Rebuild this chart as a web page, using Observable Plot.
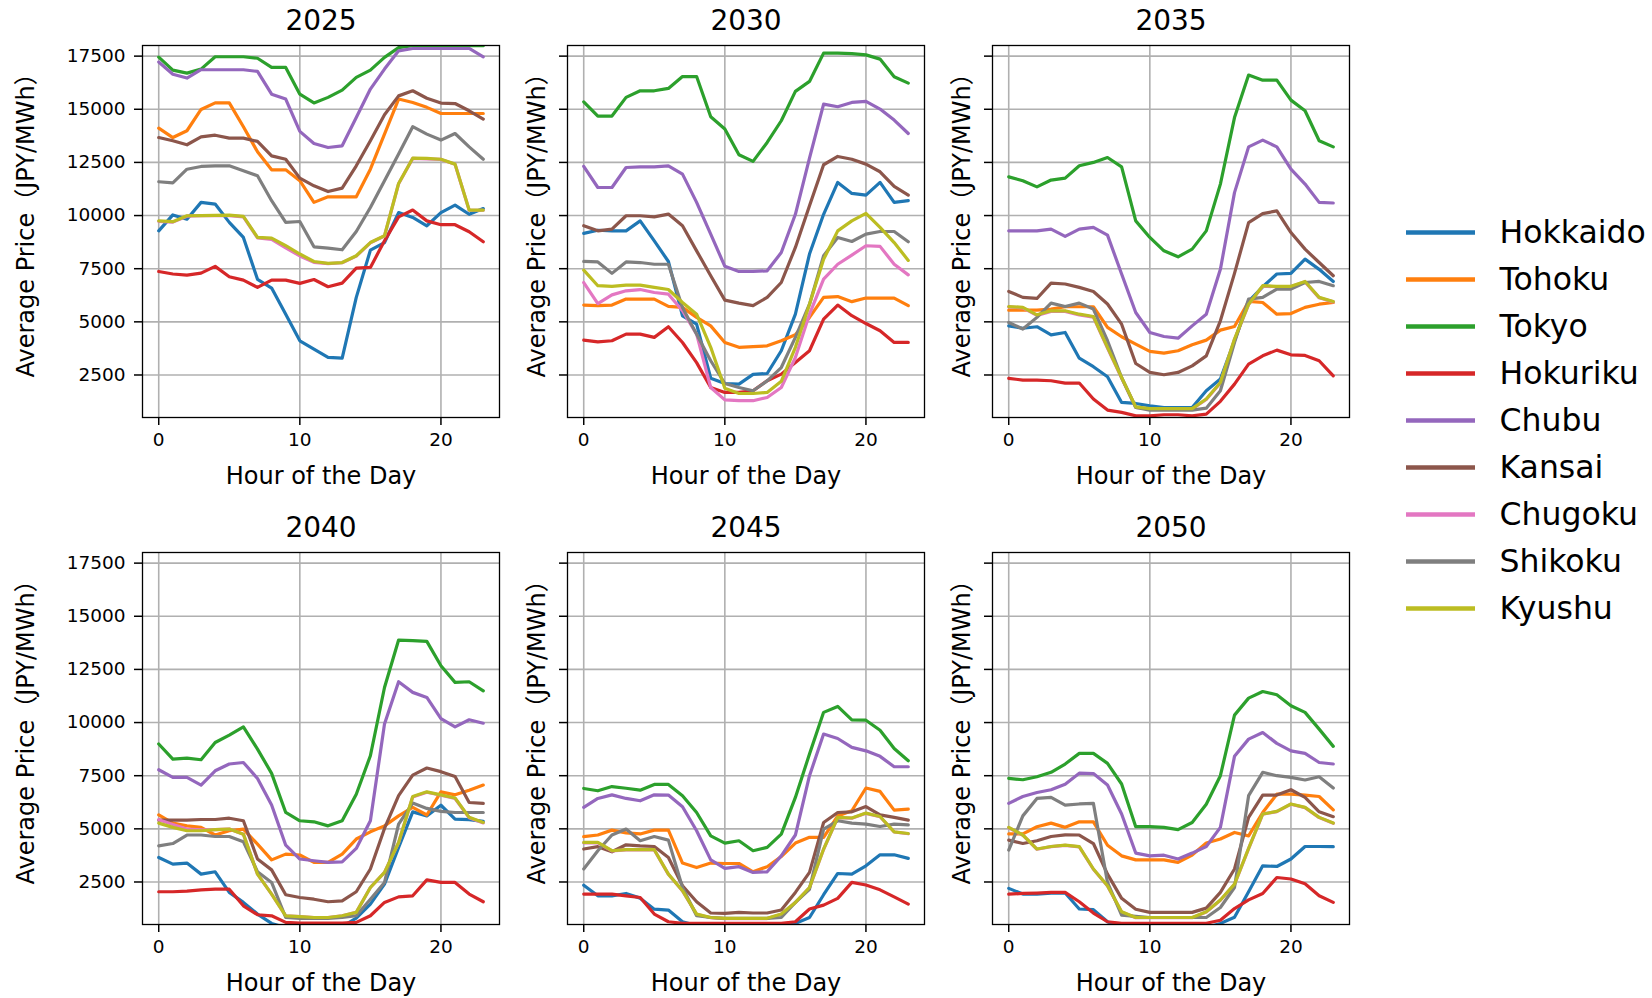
<!DOCTYPE html>
<html>
<head>
<meta charset="utf-8">
<script src="https://cdn.jsdelivr.net/npm/d3@7"></script>
<script src="https://cdn.jsdelivr.net/npm/@observablehq/plot@0.6"></script>
<style>
  html, body { margin: 0; padding: 0; background: white; overflow: hidden; }
  #chart { position: relative; width: 1652px; height: 998px; background: white; }
  .cell { position: absolute; }
  .cell svg { display: block; max-width: none; }
</style>
</head>
<body>
<div id="chart"></div>
<script>
const hours = [0,1,2,3,4,5,6,7,8,9,10,11,12,13,14,15,16,17,18,19,20,21,22,23];
const regions = ["Hokkaido","Tohoku","Tokyo","Hokuriku","Chubu","Kansai","Chugoku","Shikoku","Kyushu"];
const colors = ["#1f77b4","#ff7f0e","#2ca02c","#d62728","#9467bd","#8c564b","#e377c2","#7f7f7f","#bcbd22"];
const years = ["2025","2030","2035","2040","2045","2050"];
const yTicks = [2500,5000,7500,10000,12500,15000,17500];
const xTicks = [0,10,20];
const yLabel = "Average Price（JPY/MWh）";
const xLabel = "Hour of the Day";

const price2025 = {
  Hokkaido: [9280,10030,9830,10620,10540,9680,8970,7000,6590,5360,4110,3720,3330,3290,6150,8370,8730,10140,9910,9520,10140,10490,10060,10330],
  Tohoku:   [14110,13670,13990,14990,15300,15300,14180,13000,12150,12150,11640,10620,10880,10880,10880,12180,13830,15480,15320,15090,14800,14800,14800,14800],
  Tokyo:    [17450,16840,16700,16890,17470,17470,17470,17400,16970,16970,15710,15300,15560,15900,16500,16840,17440,17900,17990,17990,17990,17990,17990,17990],
  Hokuriku: [7370,7250,7200,7290,7610,7120,6960,6620,6960,6960,6810,6990,6650,6820,7530,7560,8810,9940,10260,9750,9570,9570,9240,8770],
  Chubu:    [17220,16650,16470,16860,16860,16860,16860,16780,15710,15480,13960,13390,13200,13280,14610,15950,16890,17750,17860,17860,17860,17860,17860,17470],
  Kansai:   [13670,13520,13330,13700,13780,13640,13640,13490,12810,12650,11760,11400,11130,11290,12340,13520,14740,15630,15870,15520,15290,15270,14930,14540],
  Chugoku:  [9720,9690,9970,9990,10000,10000,9940,8950,8880,8480,8100,7800,7740,7780,8090,8720,9040,11500,12690,12660,12640,12410,10250,10250],
  Shikoku:  [11590,11540,12180,12310,12340,12340,12110,11870,10700,9680,9720,8530,8470,8390,9250,10380,11640,12890,14180,13830,13550,13860,13230,12650],
  Kyushu:   [9750,9710,9990,10000,10010,10020,9960,8970,8940,8580,8190,7840,7750,7790,8110,8730,9050,11510,12700,12690,12650,12420,10260,10260]
};
const price2030 = {
  Hokkaido: [9160,9310,9280,9280,9750,8810,7840,5280,4890,2350,2100,2070,2530,2570,3640,5360,8190,10060,11560,11040,10960,11560,10620,10700],
  Tohoku:   [5790,5760,5790,6070,6070,6070,5730,5680,5210,4810,4030,3800,3830,3870,4110,4390,5210,6150,6190,5950,6120,6120,6120,5760],
  Tokyo:    [15350,14680,14680,15560,15870,15870,15980,16540,16540,14650,14070,12860,12550,13440,14460,15840,16310,17640,17640,17620,17560,17360,16530,16230],
  Hokuriku: [4140,4060,4110,4420,4420,4270,4770,4030,3080,1910,1680,1680,1760,2230,2540,3090,3640,5130,5790,5290,4920,4580,4030,4030],
  Chubu:    [12310,11320,11320,12260,12290,12290,12340,11950,10620,9130,7610,7370,7370,7400,8260,10060,12700,15240,15120,15320,15370,15010,14490,13860],
  Kansai:   [9520,9280,9360,9990,9990,9940,10070,9520,8340,7170,6020,5880,5760,6150,6850,8500,10460,12390,12780,12650,12420,12060,11370,10960],
  Chugoku:  [6850,5860,6270,6460,6520,6380,6300,5520,4420,1910,1330,1290,1290,1440,1910,3320,5360,7010,7710,8140,8580,8550,7710,7210],
  Shikoku:  [7840,7820,7280,7820,7790,7710,7710,5680,4420,3170,2100,1910,1760,2220,2850,4270,5830,8110,8970,8780,9130,9250,9250,8770],
  Kyushu:   [7430,6700,6670,6730,6730,6620,6520,5910,5360,3800,1880,1630,1630,1680,2200,3800,5830,7940,9280,9750,10100,9440,8730,7890]
};
const price2035 = {
  Hokkaido: [4810,4700,4770,4390,4500,3290,2890,2420,1210,1160,1050,970,970,970,1760,2310,4110,5960,6650,7250,7280,7950,7470,6900],
  Tohoku:   [5550,5550,5550,5600,5710,5710,5710,4740,4300,3950,3610,3530,3640,3920,4140,4610,4780,5960,5910,5360,5390,5680,5830,5910],
  Tokyo:    [11820,11640,11350,11670,11760,12340,12500,12730,12290,9750,8970,8340,8060,8420,9280,11480,14610,16610,16370,16370,15430,14930,13520,13230],
  Hokuriku: [2340,2260,2260,2230,2120,2120,1370,850,740,580,580,630,630,580,660,1260,2070,3010,3400,3670,3450,3420,3170,2460],
  Chubu:    [9280,9280,9280,9360,9020,9360,9440,9080,7250,5440,4500,4310,4230,4810,5360,7470,11080,13230,13550,13230,12180,11480,10620,10590],
  Kansai:   [6430,6150,6100,6820,6780,6620,6430,5840,4890,3040,2620,2510,2620,2930,3400,5050,7280,9670,10090,10220,9200,8420,7790,7170],
  Chugoku:  [5700,5660,5300,5490,5490,5330,5220,3770,2350,980,900,900,900,900,1350,2130,4170,5810,6680,6650,6650,6880,6130,5940],
  Shikoku:  [4970,4660,5210,5880,5720,5880,5600,4110,2380,970,850,850,850,850,940,1760,4030,6070,6150,6540,6540,6850,6900,6700],
  Kyushu:   [5720,5680,5330,5520,5520,5360,5250,3800,2380,1000,920,920,920,920,1370,2150,4190,5830,6700,6670,6670,6900,6150,5960]
};
const price2040 = {
  Hokkaido: [3650,3340,3390,2870,2980,2010,1540,990,550,350,350,350,350,400,800,1460,2400,4130,5800,5610,6110,5460,5430,5350],
  Tohoku:   [5660,5270,5140,5070,4710,4910,4990,4280,3540,3810,3770,3420,3420,3810,4520,4860,5140,5610,6010,5650,6740,6600,6820,7060],
  Tokyo:    [8990,8280,8330,8250,9060,9410,9800,8750,7610,5770,5380,5330,5140,5380,6630,8440,11650,13880,13850,13820,12670,11890,11920,11490],
  Hokuriku: [2040,2040,2070,2130,2160,2160,1380,960,910,600,570,570,570,570,600,910,1540,1800,1850,2600,2480,2480,1930,1570],
  Chubu:    [7780,7420,7420,7060,7730,8050,8120,7370,6120,4230,3580,3500,3420,3450,4080,5380,9930,11920,11420,11180,10190,9800,10130,9970],
  Kansai:   [5410,5410,5410,5440,5440,5500,5380,3580,3070,1900,1770,1690,1570,1610,2040,3110,5020,6560,7530,7860,7690,7460,6240,6200],
  Chugoku:  [5430,5200,4990,4950,4960,4990,4750,2870,1930,910,870,830,830,910,1070,2240,2950,4360,6500,6720,6580,6430,5520,5280],
  Shikoku:  [4200,4310,4710,4710,4640,4640,4390,2980,2480,830,790,790,790,830,910,1690,2480,5220,6210,5960,5820,5770,5770,5770],
  Kyushu:   [5270,5070,4910,4910,4960,4990,4750,2870,1930,910,870,830,830,910,1070,2240,2950,4360,6520,6740,6600,6450,5540,5300]
};
const price2045 = {
  Hokkaido: [2350,1850,1850,1960,1740,1220,1180,630,450,350,350,350,350,350,350,550,830,1900,2900,2870,3260,3780,3780,3610],
  Tohoku:   [4630,4710,4940,4810,4760,4940,4940,3390,3180,3390,3370,3370,2980,3220,3700,4330,4600,4600,5610,5850,6920,6760,5880,5930],
  Tokyo:    [6900,6790,6990,6910,6820,7090,7090,6560,5770,4670,4330,4440,3970,4130,4750,6480,8520,10480,10760,10130,10110,9640,8780,8200],
  Hokuriku: [1930,1930,1930,1850,1770,990,630,560,560,560,560,560,560,560,560,630,1230,1410,1730,2480,2360,2130,1800,1460],
  Chubu:    [6010,6430,6600,6430,6320,6600,6590,6040,4910,3540,3140,3220,2950,2980,3730,4710,7500,9460,9250,8830,8670,8410,7920,7920],
  Kansai:   [4050,4160,3920,4250,4200,4170,3650,2320,1570,1040,1020,1070,1040,1040,1180,2010,2950,5300,5770,5800,6050,5660,5540,5410],
  Chugoku:  [4340,4340,3960,4010,4010,4010,2860,2080,980,820,780,780,780,780,980,1530,2230,4040,5530,5500,5730,5570,4850,4770],
  Shikoku:  [3110,3970,4710,4990,4440,4640,4470,2240,910,830,790,790,790,790,830,1540,2160,4990,5380,5270,5220,5110,5220,5190],
  Kyushu:   [4360,4360,3970,4020,4020,4020,2870,2090,990,830,790,790,790,790,990,1540,2240,4050,5540,5510,5740,5580,4860,4780]
};
const price2050 = {
  Hokkaido: [2200,1930,1930,1980,1980,1230,1200,630,350,350,350,350,350,350,350,550,840,2040,3260,3230,3580,4170,4170,4160],
  Tohoku:   [4760,4760,5100,5270,5070,5330,5330,4230,3730,3540,3540,3540,3420,3770,4330,4520,4830,4670,5770,6630,6630,6590,6520,5890],
  Tokyo:    [7370,7310,7450,7660,8050,8550,8550,8080,7110,5100,5100,5070,4960,5300,6160,7500,10350,11150,11460,11310,10790,10480,9690,8880],
  Hokuriku: [1930,1960,1980,2010,2010,1570,1040,630,560,560,560,560,560,560,560,700,1250,1660,1960,2710,2640,2420,1850,1540],
  Chubu:    [6200,6520,6710,6840,7100,7620,7600,7060,5700,3860,3730,3760,3580,3860,4170,5070,8410,9220,9530,9020,8670,8550,8120,8050],
  Kansai:   [4470,4310,4440,4640,4720,4710,4310,2870,1730,1220,1070,1070,1070,1070,1270,2010,3110,5540,6590,6590,6840,6480,5800,5570],
  Chugoku:  [5050,4700,4040,4160,4220,4150,3100,2310,1090,820,820,820,820,820,1090,1640,2390,4070,5690,5810,6160,6000,5530,5260],
  Shikoku:  [4000,5610,6430,6480,6120,6170,6200,2480,940,880,830,830,830,830,830,1300,2240,6560,7660,7500,7420,7300,7450,6920],
  Kyushu:   [5070,4710,4050,4170,4230,4160,3110,2320,1100,830,830,830,830,830,1100,1650,2400,4080,5700,5820,6170,6010,5540,5270]
};
const pricesByYear = [price2025, price2030, price2035, price2040, price2045, price2050];

// ---- layout ----
const chart = document.getElementById("chart");
const FONT = "'DejaVu Sans', 'Noto Sans CJK JP', sans-serif";
const colLeft = [142.3, 567.3, 992.3];
const rowTop = [45, 552];
const axesW = 357, axesH = 372;
const mTop = 45, mBottom = 74, mRight = 10;

function place(svg, left, top, w) {
  const d = document.createElement("div");
  d.className = "cell";
  d.style.left = left + "px";
  d.style.top = top + "px";
  d.style.width = w + "px";
  d.appendChild(svg);
  chart.appendChild(d);
}

years.forEach((yr, i) => {
  const col = i % 3, row = Math.floor(i / 3);
  const mLeft = col === 0 ? 140 : 50;
  const table = [];
  const prices = pricesByYear[i];
  regions.forEach(r => {
    prices[r].forEach((v, h) => table.push({hour: hours[h], value: v, region: r}));
  });
  const W = mLeft + axesW + mRight;
  const H = mTop + axesH + mBottom;
  const svg = Plot.plot({
    width: W, height: H,
    marginLeft: mLeft, marginRight: mRight, marginTop: mTop, marginBottom: mBottom,
    style: {fontFamily: FONT, fontSize: "18.5px", color: "black", background: "transparent", overflow: "visible"},
    x: {domain: [-1.15, 24.15]},
    y: {domain: [500, 18000]},
    color: {domain: regions, range: colors},
    marks: [
      Plot.gridX(xTicks, {stroke: "#b0b0b0", strokeOpacity: 1, strokeWidth: 1.6}),
      Plot.gridY(yTicks, {stroke: "#b0b0b0", strokeOpacity: 1, strokeWidth: 1.6}),
      Plot.line(table, {x: "hour", y: "value", z: "region", stroke: "region", strokeWidth: 3.2, clip: true}),
      Plot.frame({stroke: "black", strokeWidth: 1.3}),
      Plot.axisX(xTicks, {tickSize: 8, tickPadding: 7.5, fontSize: 18.5, strokeWidth: 1.5, label: null, tickFormat: d => String(d)}),
      Plot.axisY(yTicks, {tickSize: 8, tickPadding: 9, fontSize: 18.5, strokeWidth: 1.5, label: null,
        tickFormat: col === 0 ? (d => String(d)) : (() => "")}),
      Plot.text([yr], {frameAnchor: "top", dy: -24.5, text: d => d, fontSize: 28, textAnchor: "middle", lineAnchor: "middle"}),
      Plot.text([xLabel], {frameAnchor: "bottom", dy: 59, text: d => d, fontSize: 24, textAnchor: "middle", lineAnchor: "middle"}),
      Plot.text([yLabel], {frameAnchor: "bottom-left", dx: col === 0 ? -116 : -30, dy: -40, rotate: -90, text: d => d, fontSize: 24, textAnchor: "start", lineAnchor: "middle"})
    ]
  });
  place(svg, colLeft[col] - mLeft, rowTop[row] - mTop, W);
});

// ---- legend ----
const legend = Plot.plot({
  width: 262, height: 998,
  margin: 0,
  style: {fontFamily: FONT, color: "black", background: "transparent", overflow: "visible"},
  x: {domain: [0, 1], range: [16, 85], axis: null},
  y: {type: "point", domain: regions, range: [230.7, 610.1], padding: 0, axis: null},
  color: {domain: regions, range: colors},
  marks: [
    Plot.ruleY(regions, {y: d => d, x1: () => 0, x2: () => 1, stroke: d => d, strokeWidth: 4.5}),
    Plot.text(regions, {x: () => 1, y: d => d, text: d => d, dx: 24, textAnchor: "start", lineAnchor: "middle", fontSize: 31.5})
  ]
});
place(legend, 1390, 0, 262);
</script>
</body>
</html>
